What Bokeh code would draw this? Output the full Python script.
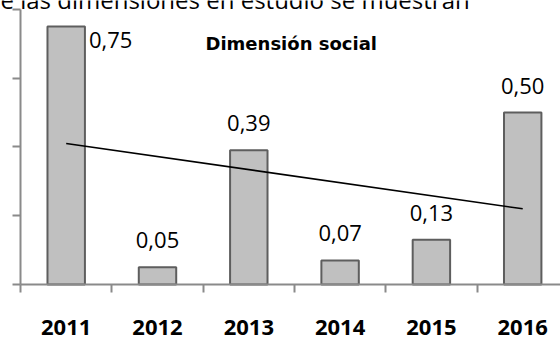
import numpy as np
from bokeh.plotting import figure
from bokeh.models import Range1d, LinearAxis, FixedTicker, Label, ColumnDataSource
from bokeh.core.properties import value
from bokeh.embed import file_html
from bokeh.resources import INLINE

# Dimensión social: yearly index values
years = ["2011", "2012", "2013", "2014", "2015", "2016"]
values = [0.75, 0.05, 0.39, 0.07, 0.13, 0.50]
y_ticks = [0.0, 0.2, 0.4, 0.6, 0.8]

W, H = 560, 338
x = np.arange(1, len(years) + 1)

# pixel layout of the frame (frame covers the whole canvas)
base_px = 284.0          # screen y of value 0
unit_px = 344.0          # pixels per 1.0 of value
cat_px = 91.3            # pixels per category
first_px = 65.7          # screen x of first category centre

y0 = -(H - base_px) / unit_px
y1 = base_px / unit_px
x0 = 1 - first_px / cat_px
x1 = x0 + W / cat_px

p = figure(width=W, height=H, output_backend="svg", toolbar_location=None,
           x_range=Range1d(x0, x1), y_range=Range1d(y0, y1),
           x_axis_type=None, y_axis_type=None, min_border=0)
p.outline_line_color = None
p.xgrid.visible = False
p.ygrid.visible = False
p.background_fill_color = "white"
p.border_fill_color = "white"

labels = [f"{v:.2f}".replace(".", ",") for v in values]
src = ColumnDataSource(dict(x=x, top=values, label=labels))

bar_w = 0.41
p.vbar(x="x", top="top", width=bar_w, bottom=0, source=src,
       fill_color="#c0c0c0", line_color="#5e5e5e", line_width=2)

# linear trend across the six years
slope, intercept = np.polyfit(x, values, 1)
p.line(x=[x[0], x[-1]], y=[slope * x[0] + intercept, slope * x[-1] + intercept],
       line_color="black", line_width=1.6)

# value labels: first one beside its bar, the rest centred above
p.text(x=[x[0] + bar_w / 2], y=[values[0]], text=[labels[0]],
       text_align="left", text_baseline="middle", x_offset=4, y_offset=13,
       text_font=value("Open Sans"), text_font_size="22px", text_color="black")
rest = ColumnDataSource(dict(x=x[1:], y=values[1:], label=labels[1:]))
p.text(x="x", y="y", text="label", source=rest,
       text_align="center", text_baseline="middle", y_offset=-27,
       text_font=value("Open Sans"), text_font_size="22px", text_color="black")

axis_col = "#8a8a8a"

# value axis (ticks only, no labels)
yax = LinearAxis(fixed_location=0.5, bounds=(0, 0.8),
                 ticker=FixedTicker(ticks=y_ticks),
                 major_label_overrides={t: "" for t in y_ticks},
                 major_tick_in=0, major_tick_out=8, minor_tick_line_color=None,
                 axis_line_color=axis_col, axis_line_width=2,
                 major_tick_line_color=axis_col, major_tick_line_width=2)
p.add_layout(yax, "left")

# category axis line with boundary ticks
edges = [float(e) for e in np.arange(0.5, len(years) + 1, 1.0)]
xax = LinearAxis(fixed_location=0, bounds=(0.5, len(years) + 0.5),
                 ticker=FixedTicker(ticks=edges),
                 major_label_overrides={e: "" for e in edges},
                 major_tick_in=0, major_tick_out=8, minor_tick_line_color=None,
                 axis_line_color=axis_col, axis_line_width=2,
                 major_tick_line_color=axis_col, major_tick_line_width=2)
p.add_layout(xax, "below")

# year labels centred under each bar
xlab = LinearAxis(fixed_location=0, ticker=FixedTicker(ticks=list(x)),
                  major_label_overrides={int(i): y for i, y in zip(x, years)},
                  axis_line_color=None, major_tick_line_color=None,
                  minor_tick_line_color=None, major_label_standoff=29,
                  major_label_text_font="Open Sans", major_label_text_font_size="22px",
                  major_label_text_font_style="bold", major_label_text_color="black")
p.add_layout(xlab, "below")

p.add_layout(Label(x=205, y=H - 43, x_units="screen", y_units="screen",
                   text="Dimensión social", text_font="DejaVu Sans",
                   text_font_size="18px", text_font_style="bold",
                   text_baseline="middle", text_color="black"))

# running text of the page above the chart
p.add_layout(Label(x=0, y=H + 1, x_units="screen", y_units="screen",
                   text="e las dimensiones en estudio se muestran",
                   text_font="Open Sans", text_font_size="24px",
                   text_baseline="alphabetic", text_color="black"))

open("out.html", "w").write(file_html(p, INLINE))
